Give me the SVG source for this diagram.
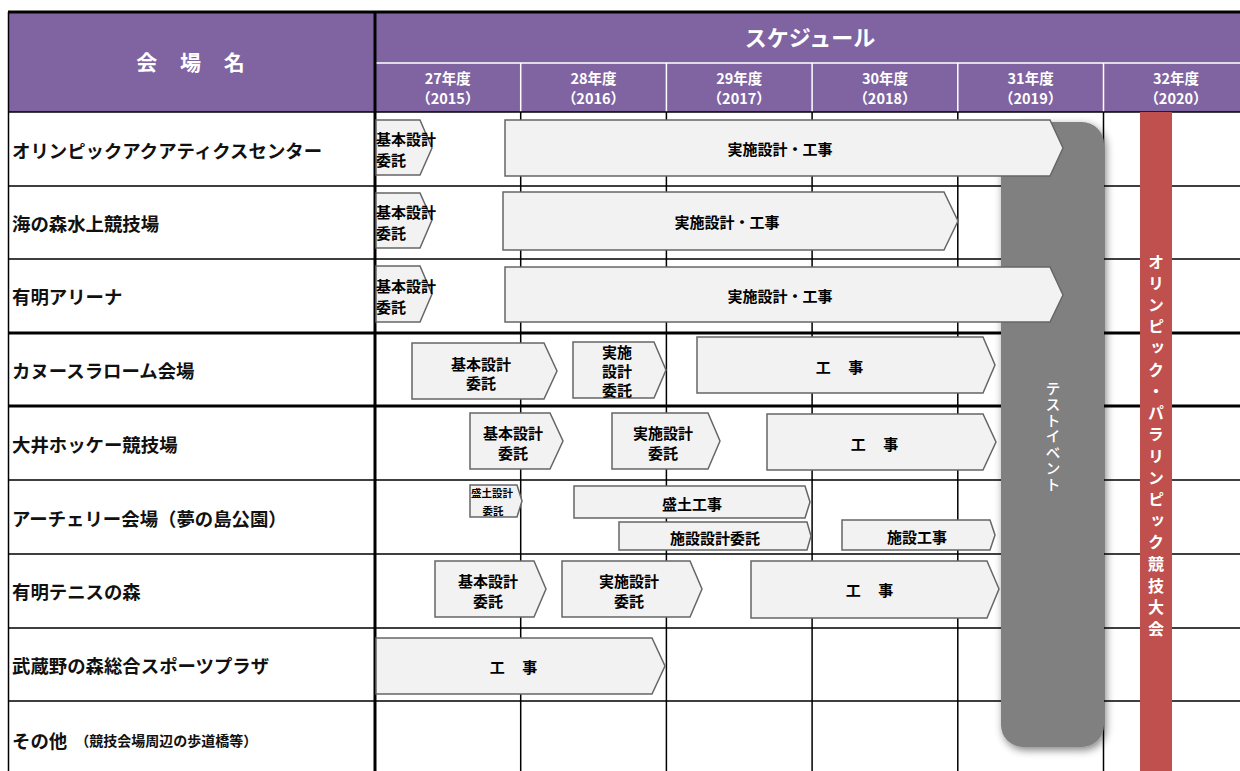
<svg xmlns="http://www.w3.org/2000/svg" width="1240" height="771" viewBox="0 0 1240 771">
<style>
.bg{fill:#fff}
.hd{fill:#8064a2}
.g{stroke:#000;stroke-width:1.5;fill:none}
.gt{stroke:#000;stroke-width:3;fill:none}
.w{stroke:#fff;stroke-width:1.5;fill:none}
.ht{fill:#fff;font-family:"Noto Sans CJK JP",sans-serif;font-weight:700;text-anchor:middle}
.lbl{fill:#111;font-family:"Noto Sans CJK JP",sans-serif;font-weight:700;font-size:18.4px;dominant-baseline:central}
.bar{fill:#f2f2f2;stroke:#666;stroke-width:1.5}
.bt{fill:#000;font-family:"Noto Sans CJK JP",sans-serif;font-weight:700;font-size:15px;text-anchor:middle;dominant-baseline:central}
.st{fill:#000;font-family:"Noto Sans CJK JP",sans-serif;font-weight:700;font-size:15px;dominant-baseline:central}
.vt{fill:#fff;font-family:"Noto Sans CJK JP",sans-serif;font-weight:700;writing-mode:vertical-rl;text-anchor:middle}
</style>
<defs>
<filter id="sh" x="-30%" y="-10%" width="160%" height="120%">
<feGaussianBlur in="SourceAlpha" stdDeviation="4"/>
<feOffset dx="2" dy="3" result="b"/>
<feComponentTransfer><feFuncA type="linear" slope="0.5"/></feComponentTransfer>
<feMerge><feMergeNode/><feMergeNode in="SourceGraphic"/></feMerge>
</filter>
</defs>
<rect class="bg" x="0" y="0" width="1240" height="771"/>

<g id="header">
<rect class="hd" x="8" y="12" width="1232" height="100"/>
<path class="w" d="M375 63H1240M520.7 63V112M666.4 63V112M812.1 63V112M957.8 63V112M1103.5 63V112"/>
<text class="ht" x="195" y="70" font-size="21" letter-spacing="9">会 場 名</text>
<text class="ht" x="810" y="46" font-size="22">スケジュール</text>
<text class="ht" x="447.8" y="84" font-size="14.5">27年度</text>
<text class="ht" x="447.8" y="104" font-size="14.5">（2015）</text>
<text class="ht" x="593.5" y="84" font-size="14.5">28年度</text>
<text class="ht" x="593.5" y="104" font-size="14.5">（2016）</text>
<text class="ht" x="739.2" y="84" font-size="14.5">29年度</text>
<text class="ht" x="739.2" y="104" font-size="14.5">（2017）</text>
<text class="ht" x="885" y="84" font-size="14.5">30年度</text>
<text class="ht" x="885" y="104" font-size="14.5">（2018）</text>
<text class="ht" x="1030.6" y="84" font-size="14.5">31年度</text>
<text class="ht" x="1030.6" y="104" font-size="14.5">（2019）</text>
<text class="ht" x="1176" y="84" font-size="14.5">32年度</text>
<text class="ht" x="1176" y="104" font-size="14.5">（2020）</text>
</g>

<g id="grid">
<path class="g" d="M8 112H1240M8 186H1240M8 259H1240M8 480H1240M8 554H1240M8 628H1240M8 701H1240"/>
<path class="gt" d="M8 333H1240M8 406H1240"/>
<path class="g" d="M520.7 112V771M666.4 112V771M812.1 112V771M957.8 112V771M1103.5 112V771"/>
<path class="gt" d="M8 12H1240"/>
<path class="g" d="M8.5 12V771"/>
<path class="gt" d="M375 12V771"/>
</g>

<g id="labels">
<text class="lbl" x="12" y="150">オリンピックアクアティクスセンター</text>
<text class="lbl" x="12" y="223">海の森水上競技場</text>
<text class="lbl" x="12" y="296">有明アリーナ</text>
<text class="lbl" x="12" y="370">カヌースラローム会場</text>
<text class="lbl" x="12" y="444">大井ホッケー競技場</text>
<text class="lbl" x="12" y="518">アーチェリー会場（夢の島公園）</text>
<text class="lbl" x="12" y="591">有明テニスの森</text>
<text class="lbl" x="12" y="665">武蔵野の森総合スポーツプラザ</text>
<text class="lbl" x="12" y="740">その他 <tspan font-size="14" dx="4">（競技会場周辺の歩道橋等）</tspan></text>
</g>

<g id="test-event">
<rect x="1001" y="122" width="103" height="625" rx="22" fill="#808080" filter="url(#sh)"/>
<text class="vt" x="1053" y="437" font-size="15" letter-spacing="1" style="font-weight:500">テストイベント</text>
</g>

<g id="games">
<rect x="1140" y="112" width="32" height="659" fill="#c0504d"/>
<text class="vt" x="1156" y="448" font-size="16" letter-spacing="5.6">オリンピック・パラリンピック競技大会</text>
</g>

<g id="r1a"><polygon class="bar" points="376,120 420,120 432,148 420,175 376,175"/>
<text class="st" x="376" y="138">基本設計</text><text class="st" x="376" y="159">委託</text></g>
<g id="r1b"><polygon class="bar" points="505,120 1050,120 1063,148 1050,176 505,176"/>
<text class="bt" x="780" y="148" font-size="17.5">実施設計・工事</text></g>

<g id="r2a"><polygon class="bar" points="376,193 420,193 432,220 420,248 376,248"/>
<text class="st" x="376" y="211">基本設計</text><text class="st" x="376" y="232">委託</text></g>
<g id="r2b"><polygon class="bar" points="503,192 944,192 958,221 944,250 503,250"/>
<text class="bt" x="727" y="221" font-size="17.5">実施設計・工事</text></g>

<g id="r3a"><polygon class="bar" points="376,266 420,266 432,294 420,322 376,322"/>
<text class="st" x="376" y="285">基本設計</text><text class="st" x="376" y="306">委託</text></g>
<g id="r3b"><polygon class="bar" points="505,267 1050,267 1063,295 1050,322 505,322"/>
<text class="bt" x="780" y="295" font-size="17.5">実施設計・工事</text></g>

<g id="r4a"><polygon class="bar" points="412,343 544,343 557,371 544,399 412,399"/>
<text class="bt" x="481" y="363" font-size="14">基本設計</text><text class="bt" x="481" y="382" font-size="14">委託</text></g>
<g id="r4b"><polygon class="bar" points="573,342 654,342 666,370 654,398 573,398"/>
<text class="bt" x="617" y="351" font-size="14">実施</text><text class="bt" x="617" y="370" font-size="14">設計</text><text class="bt" x="617" y="389" font-size="14">委託</text></g>
<g id="r4c"><polygon class="bar" points="697,337 983,337 995,365 983,393 697,393"/>
<text class="bt" x="843" y="366" font-size="17" letter-spacing="7">工 事</text></g>

<g id="r5a"><polygon class="bar" points="470,413 550,413 563,441 550,469 470,469"/>
<text class="bt" x="513" y="432" font-size="14">基本設計</text><text class="bt" x="513" y="452" font-size="14">委託</text></g>
<g id="r5b"><polygon class="bar" points="612,413 708,413 720,441 708,469 612,469"/>
<text class="bt" x="663" y="432">実施設計</text><text class="bt" x="663" y="452">委託</text></g>
<g id="r5c"><polygon class="bar" points="767,414 983,414 996,442 983,470 767,470"/>
<text class="bt" x="878" y="443" font-size="17" letter-spacing="7">工 事</text></g>

<g id="r6a"><polygon class="bar" points="470,485 517,485 522,501 517,517 470,517"/>
<text class="st" x="471" y="492" font-size="10.5" style="font-size:10.5px">盛土設計</text><text class="bt" x="493" y="510" style="font-size:10.5px">委託</text></g>
<g id="r6b"><polygon class="bar" points="574,486 805,486 810,502 805,518 574,518"/>
<text class="bt" x="692" y="503" font-size="16">盛土工事</text></g>
<g id="r6c"><polygon class="bar" points="619,522 807,522 811,536 807,550 619,550"/>
<text class="bt" x="715" y="537">施設設計委託</text></g>
<g id="r6d"><polygon class="bar" points="842,520 990,520 995,535 990,550 842,550"/>
<text class="bt" x="917" y="536" font-size="17">施設工事</text></g>

<g id="r7a"><polygon class="bar" points="435,561 534,561 546,589 534,617 435,617"/>
<text class="bt" x="488" y="580" font-size="14">基本設計</text><text class="bt" x="488" y="600" font-size="14">委託</text></g>
<g id="r7b"><polygon class="bar" points="562,561 690,561 702,589 690,617 562,617"/>
<text class="bt" x="629" y="580">実施設計</text><text class="bt" x="629" y="600">委託</text></g>
<g id="r7c"><polygon class="bar" points="751,561 987,561 999,589 987,618 751,618"/>
<text class="bt" x="873" y="589" font-size="17" letter-spacing="7">工 事</text></g>

<g id="r8a"><polygon class="bar" points="376,638 652,638 665,666 652,694 376,694"/>
<text class="bt" x="517" y="666" font-size="17" letter-spacing="7">工 事</text></g>
</svg>
